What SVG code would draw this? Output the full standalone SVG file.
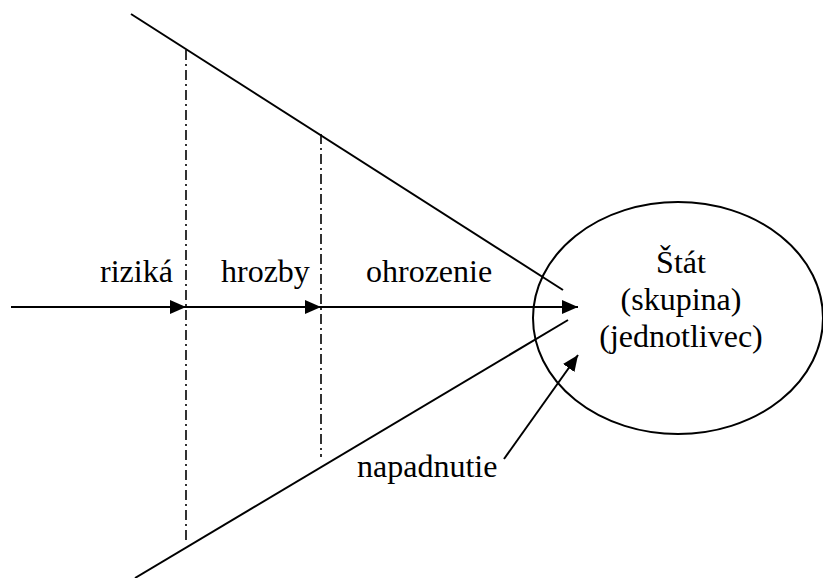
<svg xmlns="http://www.w3.org/2000/svg" width="823" height="578" viewBox="0 0 823 578">
  <style>
    .line { stroke: #000; stroke-width: 2; fill: none; }
    .dashdot { stroke: #000; stroke-width: 1.6; fill: none; stroke-dasharray: 10 4 2 4; }
    .label { font-family: 'Liberation Serif', 'DejaVu Serif', serif; font-size: 32px; fill: #000; }
    .mid { text-anchor: middle; }
  </style>
  <defs>
    <marker id="arrow" markerUnits="userSpaceOnUse" markerWidth="16" markerHeight="14" refX="16" refY="7" orient="auto">
      <path d="M0,0 L16,7 L0,14 Z" fill="#000"/>
    </marker>
  </defs>

  <rect width="823" height="578" fill="#fff"/>

  <!-- funnel edges and zone boundaries -->
  <g id="funnel">
    <line class="line" x1="131" y1="14" x2="563" y2="290"/>
    <line class="line" x1="135" y1="578" x2="568" y2="320"/>
    <line class="dashdot" x1="186" y1="50" x2="186" y2="542"/>
    <line class="dashdot" x1="321" y1="134" x2="321" y2="457"/>
  </g>

  <!-- target ellipse with its label -->
  <g id="target" font-family="Liberation Serif, serif">
    <ellipse class="line" cx="678" cy="318" rx="145" ry="116"/>
    <text class="label mid" x="681" y="273">Štát</text>
    <text class="label mid" x="681" y="310">(skupina)</text>
    <text class="label mid" x="681" y="347">(jednotlivec)</text>
  </g>

  <!-- zone labels -->
  <g id="zone-labels" font-family="Liberation Serif, serif">
    <text class="label" x="100" y="282">riziká</text>
    <text class="label" x="221" y="282">hrozby</text>
    <text class="label" x="366" y="282">ohrozenie</text>
    <text class="label" x="357" y="477">napadnutie</text>
  </g>

  <!-- connectors -->
  <g id="connectors">
    <line class="line" x1="11" y1="307" x2="186" y2="307" marker-end="url(#arrow)"/>
    <line class="line" x1="186" y1="307" x2="321" y2="307" marker-end="url(#arrow)"/>
    <line class="line" x1="321" y1="307" x2="578" y2="307" marker-end="url(#arrow)"/>
    <line class="line" x1="504" y1="459" x2="578" y2="355" marker-end="url(#arrow)"/>
  </g>
</svg>
